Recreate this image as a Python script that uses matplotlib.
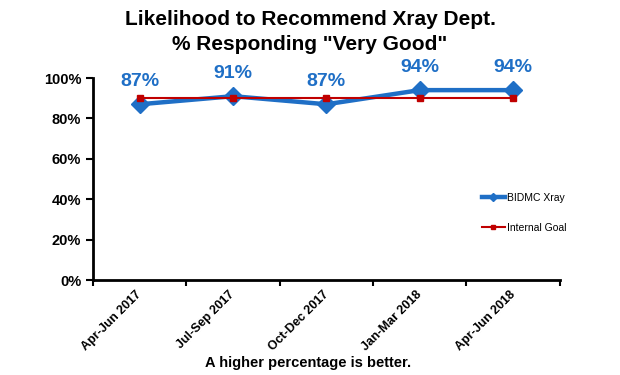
#!/usr/bin/env python3

import matplotlib
matplotlib.use("Agg")
import matplotlib.pyplot as plt
from matplotlib.ticker import FixedLocator

plt.rcParams["font.family"] = ["Liberation Sans", "DejaVu Sans"]

quarters = ["Apr-Jun 2017", "Jul-Sep 2017", "Oct-Dec 2017", "Jan-Mar 2018", "Apr-Jun 2018"]
xray = [87, 91, 87, 94, 94]
goal = [90, 90, 90, 90, 90]
yticks = [0, 20, 40, 60, 80, 100]

BLUE = "#1f6fc6"
RED = "#c00000"


def main():
    fig = plt.figure(figsize=(6.2, 3.75), dpi=100)
    ax = fig.add_axes([0.15, 0.253, 0.753, 0.539])

    x = list(range(len(quarters)))
    ax.plot(x, xray, color=BLUE, lw=3.2, marker="D", ms=9, label="BIDMC Xray", zorder=3)
    ax.plot(x, goal, color=RED, lw=1.5, marker="s", ms=5, label="Internal Goal", zorder=4)

    for i, v in enumerate(xray):
        ax.annotate(f"{v}%", (i, v), xytext=(0, 10), textcoords="offset points",
                    ha="center", va="bottom", color=BLUE, fontsize=14, fontweight="bold")

    ax.set_xlim(-0.5, len(quarters) - 0.5)
    ax.set_ylim(0, 100)
    ax.set_yticks(yticks)
    ax.set_yticklabels([f"{t}%" for t in yticks], fontsize=10.5, fontweight="bold")

    # tick marks at category boundaries, labels at the centres
    ax.xaxis.set_major_locator(FixedLocator([i - 0.5 for i in range(len(quarters) + 1)]))
    ax.xaxis.set_major_formatter(plt.NullFormatter())
    ax.xaxis.set_minor_locator(FixedLocator(x))
    ax.set_xticklabels(quarters, minor=True, rotation=45, ha="right", va="center",
                       rotation_mode="anchor", fontsize=9, fontweight="bold")
    ax.tick_params(axis="x", which="minor", length=0, pad=9)
    ax.tick_params(axis="x", which="major", length=4, width=1.5, direction="out")
    ax.tick_params(axis="y", length=5, width=1.5, direction="out")

    for s in ["top", "right"]:
        ax.spines[s].set_visible(False)
    ax.spines["left"].set_linewidth(2)
    ax.spines["bottom"].set_linewidth(2)

    fig.text(0.5, 0.947, "Likelihood to Recommend Xray Dept.", ha="center", va="center",
             fontsize=15, fontweight="bold")
    fig.text(0.5, 0.88, "% Responding \"Very Good\"", ha="center", va="center",
             fontsize=15, fontweight="bold")
    fig.text(0.497, 0.032, "A higher percentage is better.", ha="center", va="center",
             fontsize=10.5, fontweight="bold")

    fig.legend(loc="upper left", bbox_to_anchor=(0.762, 0.51), frameon=False,
               fontsize=7.5, handlelength=2.2, labelspacing=1.9, handletextpad=0.2,
               markerscale=0.5)

    fig.savefig("out.png", dpi=100)


if __name__ == "__main__":
    main()
